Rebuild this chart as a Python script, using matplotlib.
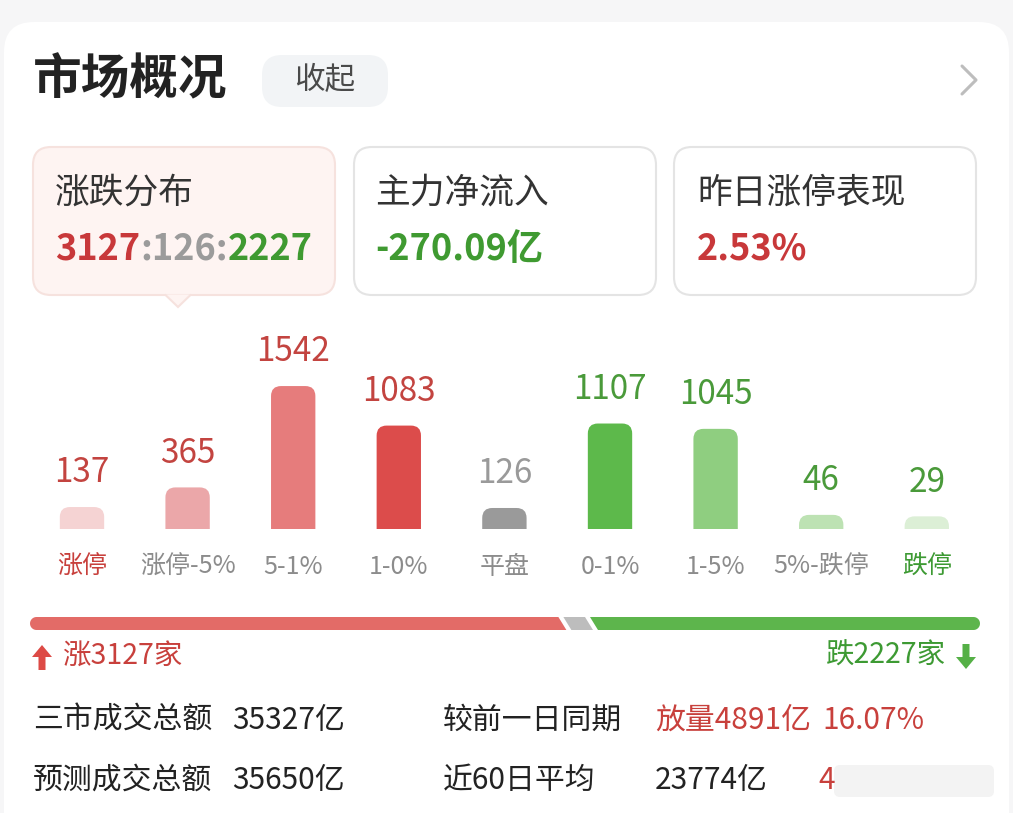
import numpy as np
import matplotlib
matplotlib.use("Agg")
import matplotlib.pyplot as plt
from matplotlib.patches import FancyBboxPatch, Polygon

plt.rcParams['font.family'] = ['Noto Sans CJK SC', 'DejaVu Sans']

# data
categories = ["涨停", "涨停-5%", "5-1%", "1-0%", "平盘", "0-1%", "1-5%", "5%-跌停", "跌停"]
counts = [137, 365, 1542, 1083, 126, 1107, 1045, 46, 29]
bar_colors = ["#f5d3d3", "#eba7a9", "#e67c7c", "#dc4c4b", "#9a9a9a",
              "#5db94b", "#8fce80", "#bde2b3", "#dcefd6"]
label_colors = ["#c34440", "#c34440", "#c34440", "#c34440", "#9a9a9a",
                "#4a9a3a", "#4a9a3a", "#4a9a3a", "#4a9a3a"]
cat_colors = ["#c8403c", "#8c8c8c", "#8c8c8c", "#8c8c8c", "#8c8c8c",
              "#8c8c8c", "#8c8c8c", "#8c8c8c", "#3d9a33"]
up_count, flat_count, down_count = 3127, 126, 2227
net_flow = "-270.09亿"
yday_limit = "2.53%"
turnover = "35327亿"
forecast = "35650亿"
vs_prev = "放量4891亿"
vs_prev_pct = "16.07%"
avg60 = "23774亿"

RED = "#c8383a"
GREEN = "#3f9a31"

fig = plt.figure(figsize=(10.13, 8.13), dpi=100, facecolor="#f6f6f7")
bg = fig.add_axes([0, 0, 1, 1])
bg.set_xlim(0, 1013)
bg.set_ylim(813, 0)
bg.axis("off")

# white panel
bg.add_patch(FancyBboxPatch((4, 22), 1005, 830, boxstyle="round,pad=0,rounding_size=30",
                            fc="white", ec="none"))

# header
bg.text(33, 80, "市场概况", fontsize=35, fontweight="bold", color="#222222", va="center")
bg.add_patch(FancyBboxPatch((262, 55), 126, 52, boxstyle="round,pad=0,rounding_size=20",
                            fc="#f2f4f6", ec="none"))
bg.text(325, 80, "收起", fontsize=22, color="#4a4a4a", va="center", ha="center")
bg.plot([962, 976, 962], [66, 80, 94], color="#bdbdbd", lw=2.2, solid_capstyle="round")

# cards
cards = [(33, "#fef4f2", "#f6e2de"), (354, "white", "#e4e4e4"), (674, "white", "#e4e4e4")]
for cx, fc, ec in cards:
    bg.add_patch(FancyBboxPatch((cx, 147), 302, 148, boxstyle="round,pad=0,rounding_size=18",
                                fc=fc, ec=ec, lw=1.5))
bg.add_patch(Polygon([[165, 294.5], [178, 307], [191, 294.5]], closed=False,
                     fc="#fef4f2", ec="#f6e2de", lw=1.5))

bg.text(55, 193, "涨跌分布", fontsize=25, color="#333333", va="center")
bg.text(375, 193, "主力净流入", fontsize=25, color="#333333", va="center")
bg.text(697, 193, "昨日涨停表现", fontsize=25, color="#333333", va="center")

t = bg.text(55, 249, str(up_count), fontsize=26, fontweight="bold", color=RED, va="center")
t = bg.annotate(":%d:" % flat_count, xycoords=t, xy=(1, 0), va="bottom",
                fontsize=26, fontweight="bold", color="#9b9b9b")
bg.annotate(str(down_count), xycoords=t, xy=(1, 0), va="bottom",
            fontsize=26, fontweight="bold", color=GREEN)
bg.text(375, 249, net_flow, fontsize=26, fontweight="bold", color=GREEN, va="center")
bg.text(697, 249, yday_limit, fontsize=26, fontweight="bold", color=RED, va="center")

# bar chart
pad = 118
extra = 400
ax = fig.add_axes([29.2 / 1013, (813 - 529) / 813, 950.4 / 1013, 199 / 813])
ax.set_xlim(-0.5, 8.5)
ax.set_ylim(-pad, 2193)
for s in ax.spines.values():
    s.set_visible(False)
ax.set_yticks([])
ax.patch.set_alpha(0)
x = np.arange(len(counts))
vals = np.array(counts, dtype=float)
bars = ax.bar(x, vals + pad + extra, bottom=-pad - extra, width=0.42, color=bar_colors)

# rounded-top bars
p0 = ax.transData.transform((0, 0))
p1 = ax.transData.transform((1, 1))
ux = 1 / (p1[0] - p0[0])
uy = 1 / (p1[1] - p0[1])
r_px = 10
aspect = uy / ux
for b, c in zip(bars, bar_colors):
    b.set_visible(False)
    ax.add_patch(FancyBboxPatch((b.get_x(), b.get_y()), b.get_width(), b.get_height(),
                                boxstyle="round,pad=0,rounding_size=%f" % (r_px * ux),
                                mutation_aspect=aspect, fc=c, ec="none"))

for xi, v, c in zip(x, counts, label_colors):
    ax.annotate(str(v), (xi, v), xytext=(0, 12), textcoords="offset points",
                ha="center", va="bottom", fontsize=24, color=c, fontweight="light")

ax.set_xticks(x, categories)
ax.tick_params(axis="x", length=0, pad=18, labelsize=18)
for tl, c in zip(ax.get_xticklabels(), cat_colors):
    tl.set_color(c)

# ratio bar
x0, x1, gap, slant = 30, 980, 5, 8
ytop, ybot = 617, 630
total = up_count + flat_count + down_count
usable = x1 - x0 - 2 * gap
w_up = usable * up_count / total
w_flat = usable * flat_count / total
r = (ybot - ytop) / 2
yc = (ytop + ybot) / 2
a = np.linspace(np.pi / 2, 3 * np.pi / 2, 20)
re = x0 + w_up
left_arc = np.column_stack([x0 + r + r * np.cos(a), yc - r * np.sin(a)])
red_poly = np.vstack([left_arc, [[re, ybot], [re - slant, ytop]]])
bg.add_patch(Polygon(red_poly, closed=True, fc="#e36b67", ec="none"))
gs = re + gap
ge = gs + w_flat
bg.add_patch(Polygon([[gs - slant, ytop], [ge - slant, ytop], [ge, ybot], [gs, ybot]],
                     closed=True, fc="#bdbdbd", ec="none"))
grs = ge + gap
tt = np.linspace(np.pi / 2, -np.pi / 2, 20)
right_arc = np.column_stack([x1 - r + r * np.cos(tt), yc - r * np.sin(tt)])
green_poly = np.vstack([[[grs - slant, ytop]], right_arc, [[grs, ybot]]])
bg.add_patch(Polygon(green_poly, closed=True, fc="#5db54c", ec="none"))

# up / down labels
bg.arrow(42, 670, 0, -25, width=7, head_width=20, head_length=12,
         length_includes_head=True, fc="#dd4a45", ec="none")
bg.text(62, 656, "涨%d家" % up_count, fontsize=20.5, color="#c8403c", va="center")
bg.text(946, 656, "跌%d家" % down_count, fontsize=20.5, color="#3d9a33", va="center", ha="right")
bg.arrow(966, 644, 0, 25, width=7, head_width=20, head_length=12,
         length_includes_head=True, fc="#55b046", ec="none")

# summary rows
rows_y = [720, 780]
fs = 21.5
bg.text(33, rows_y[0], "三市成交总额", fontsize=fs, color="#222222", va="center")
bg.text(232, rows_y[0], turnover, fontsize=fs, color="#222222", va="center")
bg.text(443, rows_y[0], "较前一日同期", fontsize=fs, color="#222222", va="center")
bg.text(655, rows_y[0], vs_prev, fontsize=fs, color="#c8403c", va="center")
bg.text(822, rows_y[0], vs_prev_pct, fontsize=fs, color="#c8403c", va="center")
bg.text(33, rows_y[1], "预测成交总额", fontsize=fs, color="#222222", va="center")
bg.text(232, rows_y[1], forecast, fontsize=fs, color="#222222", va="center")
bg.text(443, rows_y[1], "近60日平均", fontsize=fs, color="#222222", va="center")
bg.text(655, rows_y[1], avg60, fontsize=fs, color="#222222", va="center")
bg.text(818, rows_y[1], "4", fontsize=fs, color="#c8403c", va="center")
bg.add_patch(FancyBboxPatch((834, 765), 160, 32, boxstyle="round,pad=0,rounding_size=6",
                            fc="#f1f1f1", ec="none", alpha=0.85))

fig.savefig("out.png", dpi=100, facecolor=fig.get_facecolor())
